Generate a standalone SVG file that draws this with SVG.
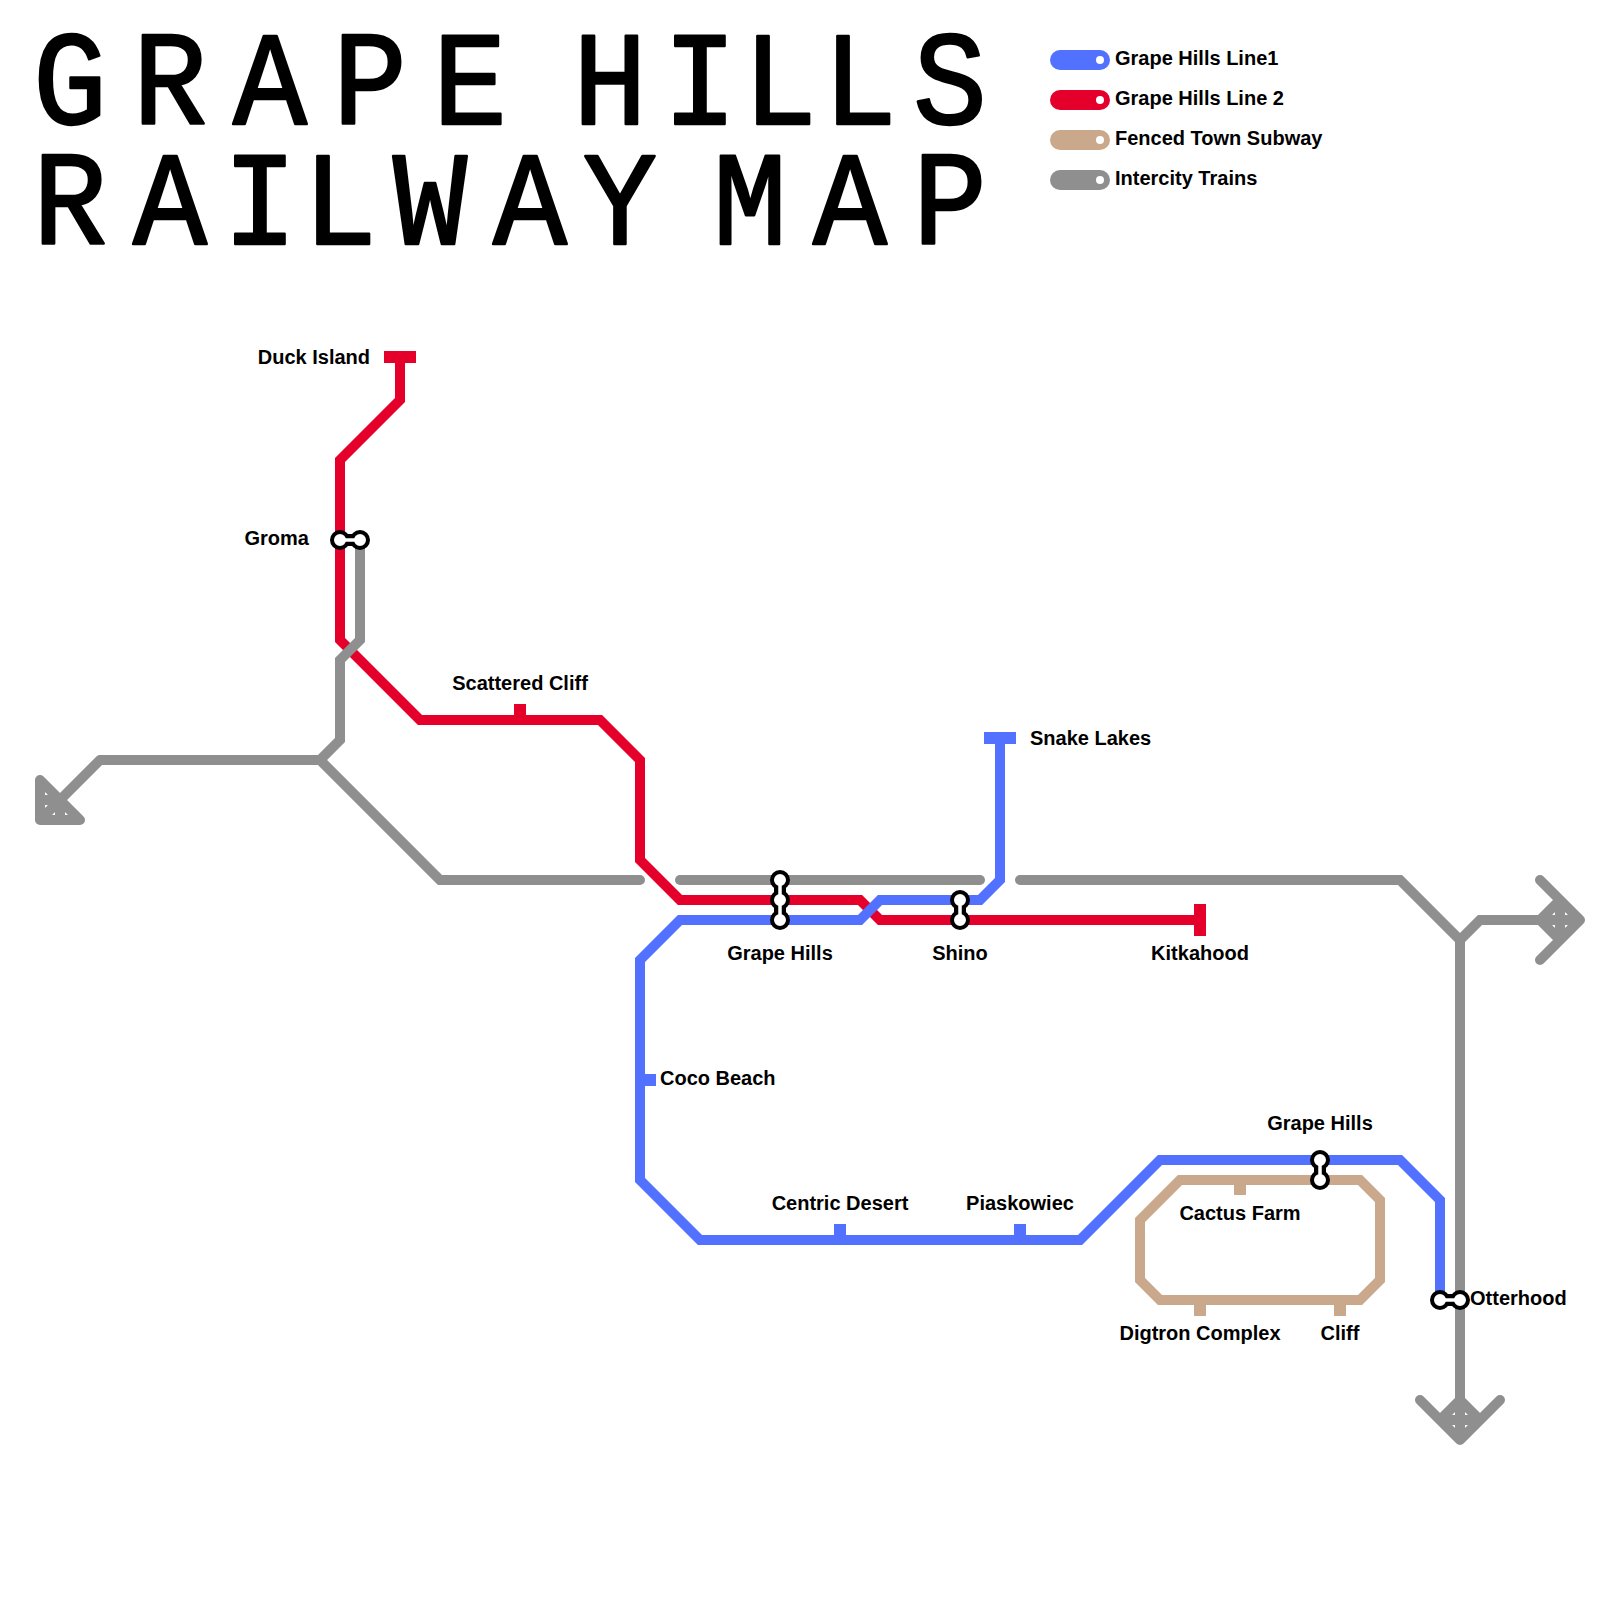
<svg xmlns="http://www.w3.org/2000/svg" width="1600" height="1600" viewBox="0 0 1600 1600">
<style>
text{font-family:"Liberation Sans",Arial,sans-serif;font-weight:700;font-size:20px;fill:#000}
.m{text-anchor:middle}.e{text-anchor:end}
.title{font-family:"Liberation Mono","DejaVu Sans Mono",monospace;font-weight:400;font-size:134px;text-anchor:middle;stroke:#000;stroke-width:2.5;stroke-linejoin:round}
.l{fill:none;stroke-width:10;stroke-linejoin:miter}
.b{stroke:#5271ff}.r{stroke:#e4002b}.t{stroke:#c9a88b}.g{stroke:#8f8f8f}
.ah{fill:none;stroke:#8f8f8f;stroke-width:10;stroke-linejoin:round;stroke-linecap:round}
.cap{stroke-linecap:round}
.tick{fill:none;stroke-width:12}
.ko{fill:none;stroke:#000;stroke-width:12}
.wo{fill:none;stroke:#fff;stroke-width:3.5}
.co{fill:#fff;stroke:#000;stroke-width:4}
.pill{stroke-width:20;stroke-linecap:round;fill:none}
.dot{fill:#fff}
</style>
<g id="title">
<text class="title" transform="scale(.92 1)" y="124" x="76.1 184.8 293.5 402.2 510.9 587 663 760.9 847.8 934.8 1032.6">GRAPE HILLS</text>
<text class="title" transform="scale(.92 1)" y="244" x="76.1 184.8 282.6 369.6 467.4 576.1 673.9 750 815.2 923.9 1032.6">RAILWAY MAP</text>
</g>
<g id="legend">
<g id="legend-line1"><path class="pill b" d="M1060 60H1100"/><circle class="dot" cx="1100" cy="60" r="4"/><text x="1115" y="65">Grape Hills Line1</text></g>
<g id="legend-line2"><path class="pill r" d="M1060 100H1100"/><circle class="dot" cx="1100" cy="100" r="4"/><text x="1115" y="105">Grape Hills Line 2</text></g>
<g id="legend-subway"><path class="pill t" d="M1060 140H1100"/><circle class="dot" cx="1100" cy="140" r="4"/><text x="1115" y="145">Fenced Town Subway</text></g>
<g id="legend-intercity"><path class="pill g" d="M1060 180H1100"/><circle class="dot" cx="1100" cy="180" r="4"/><text x="1115" y="185">Intercity Trains</text></g>
</g>
<g id="connectors">
<path id="line2" class="l r" d="M400 357V400L340 460V640L420 720H600L640 760V860L680 900H860L880 920H1200"/>
<path id="subway" class="l t" d="M1180 1180H1360L1380 1200V1280L1360 1300H1160L1140 1280V1220Z"/>
<path id="line1" class="l b" d="M1000 738V880L980 900H880L860 920H680L640 960V1180L700 1240H1080L1160 1160H1400L1440 1200V1300"/>
<path id="intercity-a" class="l g" d="M100 760H320L340 740V660L360 640V540"/>
<path id="intercity-b" class="l g cap" d="M320 760L440 880H640"/>
<path id="intercity-c" class="l g cap" d="M680 880H980"/>
<path id="intercity-d" class="l g cap" d="M1020 880H1400L1460 940V1420"/>
<path id="intercity-e" class="l g" d="M1460 940L1480 920H1580"/>
<path id="arrow-sw" class="ah" d="M100 760L40 820M40 780V820H80ZM40 800H60V820"/>
<path id="arrow-e" class="ah" d="M1540 880L1580 920L1540 960M1540 920L1560 900L1580 920L1560 940ZM1540 920H1580M1560 900V940"/>
<path id="arrow-s" class="ah" d="M1420 1400L1460 1440L1500 1400M1440 1420L1460 1400L1480 1420L1460 1440ZM1440 1420H1480M1460 1400V1440"/>
</g>
<g id="duck-island"><path class="tick r" d="M384 357H416"/><text class="e" x="370" y="364">Duck Island</text></g>
<g id="groma"><path class="ko" d="M340 540H360"/><circle class="co" cx="340" cy="540" r="8"/><circle class="co" cx="360" cy="540" r="8"/><path class="wo" d="M340 540H360"/><text class="e" x="309" y="545">Groma</text></g>
<g id="scattered-cliff"><path class="tick r" d="M520 704V720"/><text class="m" x="520" y="690">Scattered Cliff</text></g>
<g id="snake-lakes"><path class="tick b" d="M984 738H1016"/><text x="1030" y="745">Snake Lakes</text></g>
<g id="coco-beach"><path class="tick b" d="M640 1080H656"/><text x="660" y="1085">Coco Beach</text></g>
<g id="grape-hills"><path class="ko" d="M780 880V920"/><circle class="co" cx="780" cy="880" r="8"/><circle class="co" cx="780" cy="900" r="8"/><circle class="co" cx="780" cy="920" r="8"/><path class="wo" d="M780 880V920"/><text class="m" x="780" y="960">Grape Hills</text></g>
<g id="shino"><path class="ko" d="M960 900V920"/><circle class="co" cx="960" cy="900" r="8"/><circle class="co" cx="960" cy="920" r="8"/><path class="wo" d="M960 900V920"/><text class="m" x="960" y="960">Shino</text></g>
<g id="kitkahood"><path class="tick r" d="M1200 904V936"/><text class="m" x="1200" y="960">Kitkahood</text></g>
<g id="centric-desert"><path class="tick b" d="M840 1224V1240"/><text class="m" x="840" y="1210">Centric Desert</text></g>
<g id="piaskowiec"><path class="tick b" d="M1020 1224V1240"/><text class="m" x="1020" y="1210">Piaskowiec</text></g>
<g id="grape-hills-2"><path class="ko" d="M1320 1160V1180"/><circle class="co" cx="1320" cy="1160" r="8"/><circle class="co" cx="1320" cy="1180" r="8"/><path class="wo" d="M1320 1160V1180"/><text class="m" x="1320" y="1130">Grape Hills</text></g>
<g id="cactus-farm"><path class="tick t" d="M1240 1180V1195"/><text class="m" x="1240" y="1220">Cactus Farm</text></g>
<g id="digtron-complex"><path class="tick t" d="M1200 1300V1316"/><text class="m" x="1200" y="1340">Digtron Complex</text></g>
<g id="cliff"><path class="tick t" d="M1340 1300V1316"/><text class="m" x="1340" y="1340">Cliff</text></g>
<g id="otterhood"><path class="ko" d="M1440 1300H1460"/><circle class="co" cx="1440" cy="1300" r="8"/><circle class="co" cx="1460" cy="1300" r="8"/><path class="wo" d="M1440 1300H1460"/><text x="1470" y="1305">Otterhood</text></g>
</svg>
